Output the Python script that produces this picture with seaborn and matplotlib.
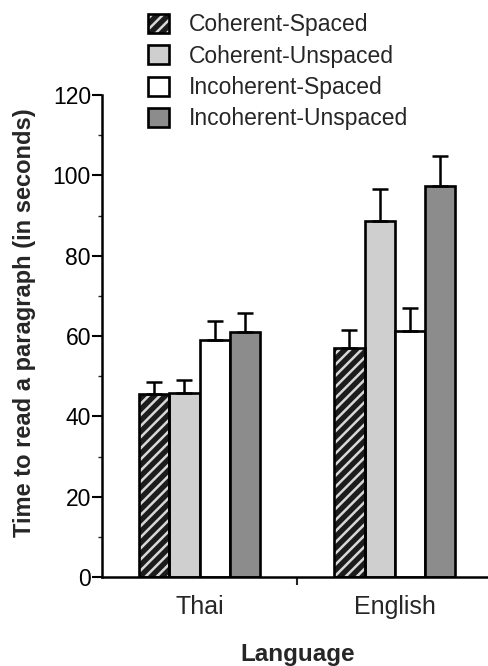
import matplotlib
matplotlib.use("Agg")
import matplotlib.pyplot as plt
from matplotlib.patches import Patch, Rectangle
from matplotlib.legend_handler import HandlerTuple
import seaborn as sns
import pandas as pd

# ---- data ----
languages = ["Thai", "English"]
conditions = ["Coherent-Spaced", "Coherent-Unspaced", "Incoherent-Spaced", "Incoherent-Unspaced"]
thai_means = [45.5, 45.9, 58.9, 61.0]
english_means = [57.1, 88.7, 61.2, 97.4]
thai_err = [3.0, 3.1, 4.9, 4.8]
english_err = [4.3, 7.8, 5.7, 7.4]
y_ticks = [0, 20, 40, 60, 80, 100, 120]

colors = ["#1c1c1c", "#cfcfcf", "#ffffff", "#8c8c8c"]

rows = []
for lang, means in zip(languages, [thai_means, english_means]):
    for cond, m in zip(conditions, means):
        rows.append({"Language": lang, "Condition": cond, "Time": m})
df = pd.DataFrame(rows)
errs = {("Thai", c): e for c, e in zip(conditions, thai_err)}
errs.update({("English", c): e for c, e in zip(conditions, english_err)})

sns.set_style("white")
plt.rcParams["font.family"] = ["Liberation Sans", "DejaVu Sans"]
plt.rcParams["hatch.linewidth"] = 1.8

fig = plt.figure(figsize=(4.88, 6.66), dpi=100)
ax = fig.add_axes([102 / 488, (666 - 577) / 666, 390.5 / 488, (577 - 95) / 666])

sns.barplot(data=df, x="Language", y="Time", hue="Condition", order=languages,
            hue_order=conditions, palette=colors, errorbar=None, width=0.62,
            saturation=1, edgecolor="black", linewidth=1.9, ax=ax, legend=False)

# style bars, add error bars
for ci, (cond, cont) in enumerate(zip(conditions, ax.containers)):
    for li, bar in enumerate(cont.patches):
        x = bar.get_x() + bar.get_width() / 2
        h = bar.get_height()
        e = errs[(languages[li], cond)]
        ax.errorbar([x], [h], yerr=[[0], [e]], fmt="none", ecolor="black",
                    elinewidth=1.8, capsize=6, capthick=1.8, zorder=1)
        if ci == 0:
            bar.set_hatch("///")
            bar.set_edgecolor("#d8d8d8")
            bar.set_linewidth(0)
            ax.add_patch(Rectangle((bar.get_x(), 0), bar.get_width(), h, fill=False,
                                   edgecolor="black", linewidth=1.9, zorder=3))

ax.set_ylim(0, 120)
ax.set_xlim(-0.5, 1.5)
ax.set_yticks(y_ticks)
ax.set_yticks(range(10, 120, 20), minor=True)
ax.tick_params(axis="y", which="major", direction="out", length=7, width=1.5,
               labelsize=16.5, pad=1, left=True, colors="black")
ax.tick_params(axis="y", which="minor", direction="out", length=3, width=1.0, left=True)
ax.set_xticks([0, 1])
ax.set_xticklabels(languages)
ax.set_xticks([0.5], minor=True)
ax.tick_params(axis="x", which="major", length=0, labelsize=18, pad=13)
ax.tick_params(axis="x", which="minor", direction="out", length=6, width=1.5, bottom=True)

for s in ["top", "right"]:
    ax.spines[s].set_visible(False)
for s in ["left", "bottom"]:
    ax.spines[s].set_color("black")
    ax.spines[s].set_linewidth(1.8)

ax.set_xlabel("Language", fontsize=17.5, fontweight="bold", va="top")
ax.xaxis.set_label_coords(0.5, -0.136)
ax.set_ylabel("")
fig.text(25 / 488, 1 - 323 / 666, "Time to read a paragraph (in seconds)", rotation=90,
         ha="center", va="center", fontsize=17, fontweight="bold")

# legend
h0 = (Patch(facecolor=colors[0], edgecolor="#d8d8d8", hatch="///", linewidth=0),
      Patch(facecolor="none", edgecolor="black", linewidth=1.9))
handles = [h0] + [Patch(facecolor=c, edgecolor="black", linewidth=1.9) for c in colors[1:]]
fig.legend(handles, conditions, loc="upper left", bbox_to_anchor=(148 / 488, 1 - 13.5 / 666),
           frameon=False, fontsize=16.5, handlelength=0.9, handleheight=0.9,
           handletextpad=0.9, labelspacing=0.36, borderpad=0, borderaxespad=0,
           handler_map={tuple: HandlerTuple(ndivide=1, pad=0)})

fig.savefig("out.png", dpi=100, facecolor="white")
